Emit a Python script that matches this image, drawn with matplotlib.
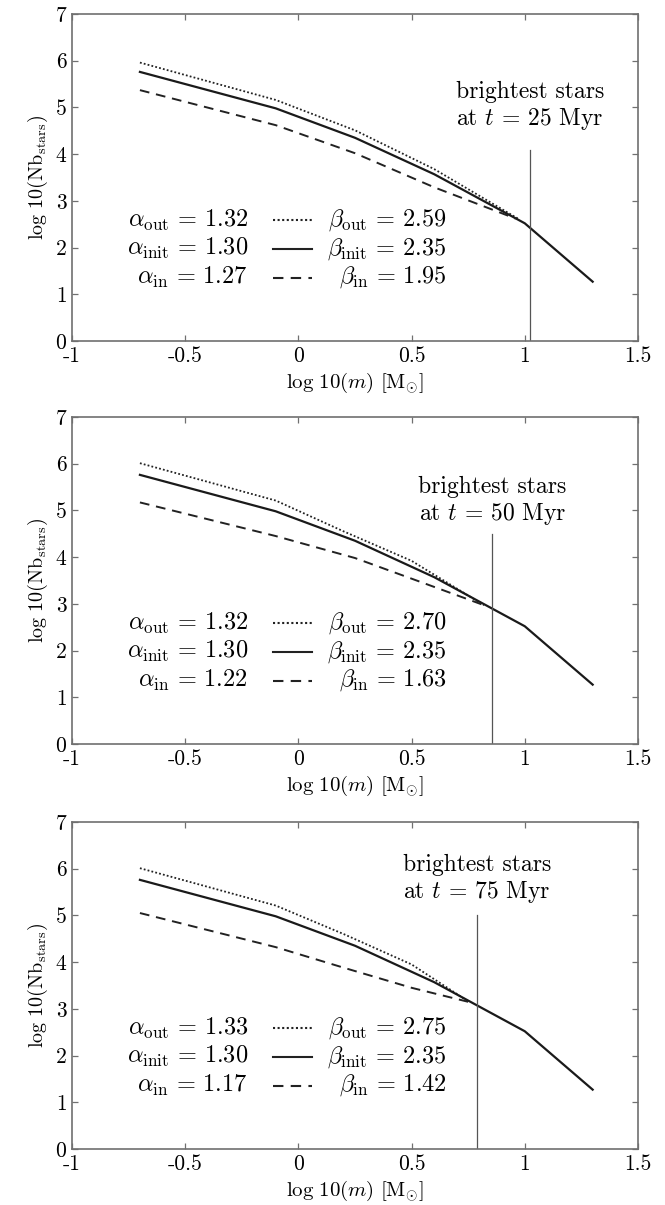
import matplotlib
matplotlib.use("Agg")
import matplotlib.pyplot as plt
from matplotlib.ticker import FuncFormatter

plt.rcParams["font.family"] = "cmr10"
plt.rcParams["mathtext.fontset"] = "cm"
plt.rcParams["axes.unicode_minus"] = False

# initial mass function (same in all panels)
x_init = [-0.7, -0.1, 0.25, 0.6, 1.0, 1.3]
y_init = [5.76, 4.98, 4.35, 3.57, 2.52, 1.27]

# t = 25 Myr
x_out_25 = [-0.7, -0.1, 0.25, 0.6, 0.97]
y_out_25 = [5.96, 5.16, 4.51, 3.68, 2.62]
x_in_25 = [-0.7, -0.1, 0.25, 0.6, 0.96]
y_in_25 = [5.37, 4.62, 4.02, 3.29, 2.62]

# t = 50 Myr
x_out_50 = [-0.7, -0.1, 0.2, 0.5, 0.82]
y_out_50 = [6.01, 5.21, 4.55, 3.92, 2.97]
x_in_50 = [-0.7, -0.1, 0.25, 0.55, 0.82]
y_in_50 = [5.17, 4.45, 3.98, 3.45, 2.97]

# t = 75 Myr
x_out_75 = [-0.7, -0.1, 0.2, 0.5, 0.75]
y_out_75 = [6.01, 5.21, 4.6, 3.95, 3.16]
x_in_75 = [-0.7, -0.1, 0.2, 0.5, 0.75]
y_in_75 = [5.05, 4.32, 3.88, 3.45, 3.15]

ages = [25, 50, 75]
m_brightest = [1.023, 0.857, 0.79]
line_top = [4.09, 4.49, 5.0]
text_y = [5.33, 5.5, 6.07]

alpha_out = ["1.32", "1.32", "1.33"]
alpha_init = ["1.30", "1.30", "1.30"]
alpha_in = ["1.27", "1.22", "1.17"]
beta_out = ["2.59", "2.70", "2.75"]
beta_init = ["2.35", "2.35", "2.35"]
beta_in = ["1.95", "1.63", "1.42"]

panels = [
    (x_out_25, y_out_25, x_in_25, y_in_25),
    (x_out_50, y_out_50, x_in_50, y_in_50),
    (x_out_75, y_out_75, x_in_75, y_in_75),
]

fig = plt.figure(figsize=(6.65, 12.05), dpi=100)
bottoms = [0.717, 0.3826, 0.0465]
grey = "#707070"
dots = (0, (1, 1.2))
dashes = (0, (5, 3.5))

for i, (xo, yo, xi, yi) in enumerate(panels):
    ax = fig.add_axes([0.1083, bottoms[i], 0.851, 0.2714])
    ax.plot(xo, yo, color="#222222", lw=1.3, linestyle=dots)
    ax.plot(x_init, y_init, color="#1a1a1a", lw=1.6)
    ax.plot(xi, yi, color="#222222", lw=1.4, linestyle=dashes)
    ax.plot([m_brightest[i], m_brightest[i]], [0, line_top[i]], color="#555555", lw=0.9)

    ax.text(m_brightest[i], text_y[i], "brightest stars", ha="center", va="center", fontsize=17)
    ax.text(m_brightest[i], text_y[i] - 0.58, "at $t$ = " + str(ages[i]) + " Myr",
            ha="center", va="center", fontsize=17)

    rows = [
        (r"$\alpha_{\rm out}\,=\,$" + alpha_out[i], r"$\beta_{\rm out}\,=\,$" + beta_out[i], dots),
        (r"$\alpha_{\rm init}\,=\,$" + alpha_init[i], r"$\beta_{\rm init}\,=\,$" + beta_init[i], "-"),
        (r"$\alpha_{\rm in}\,=\,$" + alpha_in[i], r"$\beta_{\rm in}\,=\,$" + beta_in[i], dashes),
    ]
    for k, (atxt, btxt, ls) in enumerate(rows):
        yy = 0.37 - 0.088 * k
        ax.text(0.311, yy, atxt, transform=ax.transAxes, ha="right", va="center", fontsize=17.5)
        ax.plot([0.355, 0.424], [yy, yy], transform=ax.transAxes, color="#222222", lw=1.5, linestyle=ls)
        ax.text(0.662, yy, btxt, transform=ax.transAxes, ha="right", va="center", fontsize=17.5)

    ax.set_xlim(-1, 1.5)
    ax.set_ylim(0, 7)
    ax.set_xticks([-1, -0.5, 0, 0.5, 1, 1.5])
    ax.set_yticks(range(8))
    ax.xaxis.set_major_formatter(FuncFormatter(lambda v, p: "%g" % v))
    ax.yaxis.set_major_formatter(FuncFormatter(lambda v, p: "%g" % v))
    ax.tick_params(direction="in", top=True, right=True, length=4, width=0.9,
                   color=grey, labelsize=15.5, pad=4)
    for s in ax.spines.values():
        s.set_color(grey)
        s.set_linewidth(1.2)
    ax.set_xlabel(r"$\mathrm{log\ 10}(m)\ [\mathrm{M}_{\odot}]$", fontsize=15, labelpad=3)
    ax.set_ylabel(r"$\mathrm{log\ 10(Nb_{stars})}$", fontsize=14.5, labelpad=4)

plt.savefig("out.png", dpi=100)
plt.close()
